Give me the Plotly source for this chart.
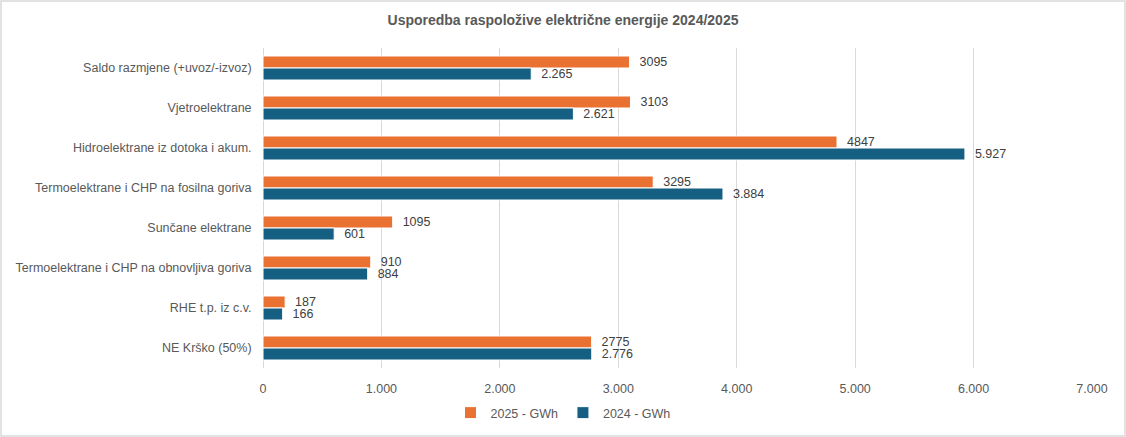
import plotly.graph_objects as go

categories = [
    "Saldo razmjene (+uvoz/-izvoz)",
    "Vjetroelektrane",
    "Hidroelektrane iz dotoka i akum.",
    "Termoelektrane i CHP na fosilna goriva",
    "Sunčane elektrane",
    "Termoelektrane i CHP na obnovljiva goriva",
    "RHE t.p. iz c.v.",
    "NE Krško (50%)",
]
values_2025 = [3095, 3103, 4847, 3295, 1095, 910, 187, 2775]
values_2024 = [2265, 2621, 5927, 3884, 601, 884, 166, 2776]
x_ticks = [0, 1000, 2000, 3000, 4000, 5000, 6000, 7000]

W, H = 1126, 437
L, R, T, B = 263, 34, 48, 69
FONT = "Liberation Sans, Arial"

fig = go.Figure()
fig.add_trace(go.Bar(
    y=categories, x=values_2025, orientation="h", name="2025 - GWh",
    marker=dict(color="#E97132", line=dict(color="white", width=1)),
    texttemplate="  %{x:d}", textposition="outside", constraintext="none",
    textfont=dict(family=FONT, size=12.5, color="#404040"),
    cliponaxis=False,
))
fig.add_trace(go.Bar(
    y=categories, x=values_2024, orientation="h", name="2024 - GWh",
    marker=dict(color="#156082", line=dict(color="white", width=1)),
    texttemplate="  %{x:,d}", textposition="outside", constraintext="none",
    textfont=dict(family=FONT, size=12.5, color="#404040"),
    cliponaxis=False,
))

pw = W - L - R
ph = H - T - B
fig.add_shape(type="rect", xref="paper", yref="paper",
              x0=-(L - 1) / pw, x1=1 + (R - 1) / pw,
              y0=-(B - 1) / ph, y1=1 + (T - 1) / ph,
              line=dict(color="#d9d9d9", width=1.5), layer="below")

fig.update_layout(
    width=W, height=H,
    margin=dict(l=L, r=R, t=T, b=B, pad=0, autoexpand=False),
    paper_bgcolor="white", plot_bgcolor="white",
    separators=",.",
    barmode="group", bargap=0.4, bargroupgap=0,
    title=dict(text="<b>Usporedba raspoložive električne energije 2024/2025</b>",
               x=0.5, xref="container", xanchor="center", y=1 - 20 / H, yanchor="middle",
               font=dict(family=FONT, size=14, color="#595959")),
    font=dict(family=FONT, size=12.5, color="#595959"),
    xaxis=dict(range=[0, 7000], tickvals=x_ticks, tickformat=",d",
               showgrid=True, gridcolor="#d9d9d9", gridwidth=1,
               zeroline=True, zerolinecolor="#d9d9d9", zerolinewidth=1,
               showline=False, ticks="outside", ticklen=9, automargin=False,
               tickcolor="rgba(0,0,0,0)",
               tickfont=dict(size=12.5, color="#595959")),
    yaxis=dict(autorange="reversed", showgrid=False, ticks="", showline=False,
               ticksuffix="   ", automargin=False,
               tickfont=dict(size=12.5, color="#595959")),
    legend=dict(orientation="h", x=0.5, xref="container",
                xanchor="center", y=(H - 413) / H, yref="container", yanchor="middle",
                font=dict(size=12.5, color="#595959"), traceorder="normal"),
)
fig.write_html("out.html", config={"displayModeBar": False},
               post_script="document.body.style.margin='0';")
